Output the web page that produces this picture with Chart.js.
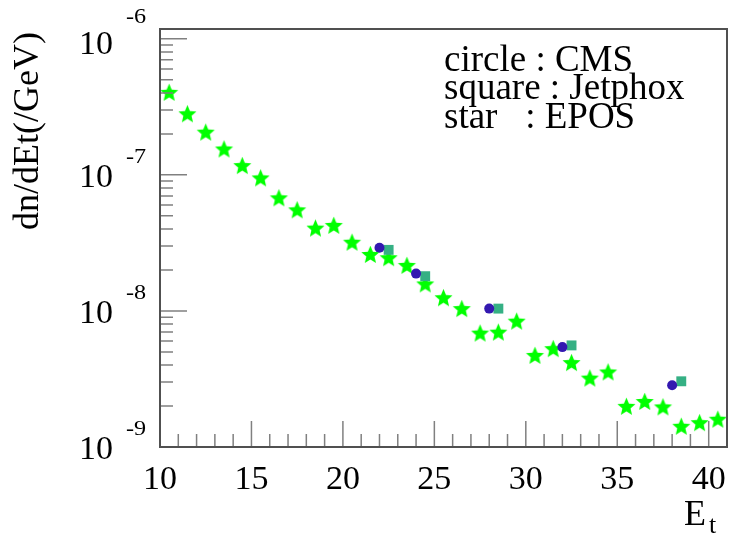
<!DOCTYPE html>
<html>
<head>
<meta charset="utf-8">
<script src="https://cdn.jsdelivr.net/npm/chart.js@4"></script>
<style>
  html, body { margin: 0; padding: 0; background: #fff; overflow: hidden; }
  #wrap { width: 729px; height: 536px; position: relative; }
  canvas { display: block; }
</style>
</head>
<body>
<div id="wrap"><canvas id="plot"></canvas></div>
<script>
// E_t bins and values
const starX = [10.5, 11.5, 12.5, 13.5, 14.5, 15.5, 16.5, 17.5, 18.5, 19.5, 20.5,
               21.5, 22.5, 23.5, 24.5, 25.5, 26.5, 27.5, 28.5, 29.5, 30.5,
               31.5, 32.5, 33.5, 34.5, 35.5, 36.5, 37.5, 38.5, 39.5, 40.5];
const eposY = [4.04e-7, 2.81e-7, 2.06e-7, 1.55e-7, 1.17e-7, 9.5e-8, 6.78e-8, 5.53e-8, 4.06e-8, 4.25e-8, 3.2e-8,
               2.6e-8, 2.46e-8, 2.16e-8, 1.58e-8, 1.25e-8, 1.04e-8, 6.87e-9, 6.98e-9, 8.41e-9, 4.71e-9,
               5.28e-9, 4.17e-9, 3.21e-9, 3.56e-9, 1.99e-9, 2.16e-9, 1.97e-9, 1.42e-9, 1.51e-9, 1.6e-9];

const cmsX = [22, 24, 28, 32, 38];
const cmsY = [2.91e-8, 1.88e-8, 1.04e-8, 5.42e-9, 2.84e-9];

const jetX = [22.5, 24.5, 28.5, 32.5, 38.5];
const jetY = [2.81e-8, 1.8e-8, 1.04e-8, 5.58e-9, 3.04e-9];

const xTickLabels = [10, 15, 20, 25, 30, 35, 40];
const yDecades = [-9, -8, -7, -6];
const legendLines = ['circle : CMS', 'square : Jetphox', 'star   : EPOS'];

const SERIF = '"Liberation Serif", "DejaVu Serif", serif';

function pairs(xs, ys) {
    return xs.map((x, i) => ({ x: x, y: ys[i] }));
}

// filled five point star, like ROOT marker 29
function makeStar(r, color) {
    const c = document.createElement('canvas');
    const s = Math.ceil(r * 2 + 2);
    c.width = s; c.height = s;
    const g = c.getContext('2d');
    const cx = s / 2, cy = s / 2 + 0.8, ri = r * 0.45;
    g.beginPath();
    for (let i = 0; i < 10; i++) {
        const a = -Math.PI / 2 + i * Math.PI / 5;
        const rr = i % 2 === 0 ? r : ri;
        g.lineTo(cx + rr * Math.cos(a), cy + rr * Math.sin(a));
    }
    g.closePath();
    g.fillStyle = color;
    g.fill();
    return c;
}
const starImg = makeStar(9.5, '#00ff00');

function text(ctx, str, x, y, size, align, sx) {
    ctx.save();
    ctx.font = size + 'px ' + SERIF;
    ctx.textAlign = align || 'left';
    ctx.textBaseline = 'alphabetic';
    ctx.translate(x, y);
    ctx.scale(sx || 1, 1);
    ctx.fillText(str, 0, 0);
    ctx.restore();
}

const rootFrame = {
    id: 'rootFrame',
    afterDatasetsDraw(chart) {
        const ctx = chart.ctx;
        const a = chart.chartArea;
        const xs = chart.scales.x, ys = chart.scales.y;
        ctx.save();

        // ticks inside the frame
        ctx.strokeStyle = '#808080';
        ctx.lineWidth = 1.5;
        ctx.beginPath();
        xs.ticks.forEach(t => {
            const px = xs.getPixelForValue(t.value);
            if (px <= a.left + 1 || px >= a.right - 1) return;
            const len = t.major ? 26 : 13;
            ctx.moveTo(px, a.bottom);
            ctx.lineTo(px, a.bottom - len);
        });
        ys.ticks.forEach(t => {
            const py = ys.getPixelForValue(t.value);
            if (py <= a.top + 1 || py >= a.bottom - 1) return;
            const len = t.major ? 27 : 13;
            ctx.moveTo(a.left, py);
            ctx.lineTo(a.left + len, py);
        });
        ctx.stroke();

        // frame
        ctx.strokeStyle = '#505050';
        ctx.lineWidth = 2;
        ctx.strokeRect(a.left, a.top, a.right - a.left, a.bottom - a.top);

        ctx.fillStyle = '#000';
        // x labels
        xTickLabels.forEach(v => {
            const px = xs.getPixelForValue(v);
            text(ctx, String(v), px, 489, 34, 'center');
        });
        // y labels, 10 with exponent
        yDecades.forEach(e => {
            const py = ys.getPixelForValue(Math.pow(10, e));
            const top = py - a.top < 15;
            text(ctx, '10', 113, (top ? py + 3 : py) + 12, 34, 'right');
            text(ctx, String(e), 126, (top ? py - 23 : py - 19) + 7, 22, 'left', 1.1);
        });

        // axis titles
        text(ctx, 'E', 684, 525, 36, 'left');
        text(ctx, 't', 709, 533, 26, 'left');
        ctx.save();
        ctx.translate(38, 131);
        ctx.rotate(-Math.PI / 2);
        text(ctx, 'dn/dEt(/GeV)', 0, 0, 36, 'center');
        ctx.restore();

        // legend text
        legendLines.forEach((s, i) => {
            text(ctx, s, 444, 71 + i * 28.3, 37, 'left');
        });
        ctx.restore();
    }
};

const ctx = document.getElementById('plot').getContext('2d');
const chart = new Chart(ctx, {
    type: 'scatter',
    data: {
        datasets: [
            { label: 'CMS', data: pairs(cmsX, cmsY), pointStyle: 'circle', radius: 5,
              backgroundColor: '#3318b0', borderWidth: 0 },
            { label: 'Jetphox', data: pairs(jetX, jetY), pointStyle: 'rect', radius: 7,
              backgroundColor: '#35b084', borderWidth: 0 },
            { label: 'EPOS', data: pairs(starX, eposY), pointStyle: starImg, radius: 9 }
        ]
    },
    options: {
        responsive: true,
        maintainAspectRatio: false,
        animation: false,
        events: [],
        layout: { autoPadding: false, padding: { left: 0, right: 2, top: 29, bottom: 0 } },
        plugins: { legend: { display: false }, tooltip: { enabled: false } },
        scales: {
            x: {
                type: 'linear', min: 10, max: 41,
                grid: { display: false }, border: { display: false },
                ticks: { display: false },
                afterBuildTicks: s => {
                    const t = [];
                    for (let v = 10; v <= 41; v++) t.push({ value: v, major: v % 5 === 0 });
                    s.ticks = t;
                },
                afterFit: s => { s.height = 89; }
            },
            y: {
                type: 'logarithmic', min: 1e-9, max: 1.18e-6,
                grid: { display: false }, border: { display: false },
                ticks: { display: false },
                afterBuildTicks: s => {
                    const t = [];
                    yDecades.forEach(e => {
                        for (let m = 1; m <= 9; m++) {
                            const v = m * Math.pow(10, e);
                            if (v <= 1.18e-6) t.push({ value: v, major: m === 1 });
                        }
                    });
                    s.ticks = t;
                },
                afterFit: s => { s.width = 160; }
            }
        }
    },
    plugins: [rootFrame]
});
</script>
</body>
</html>
